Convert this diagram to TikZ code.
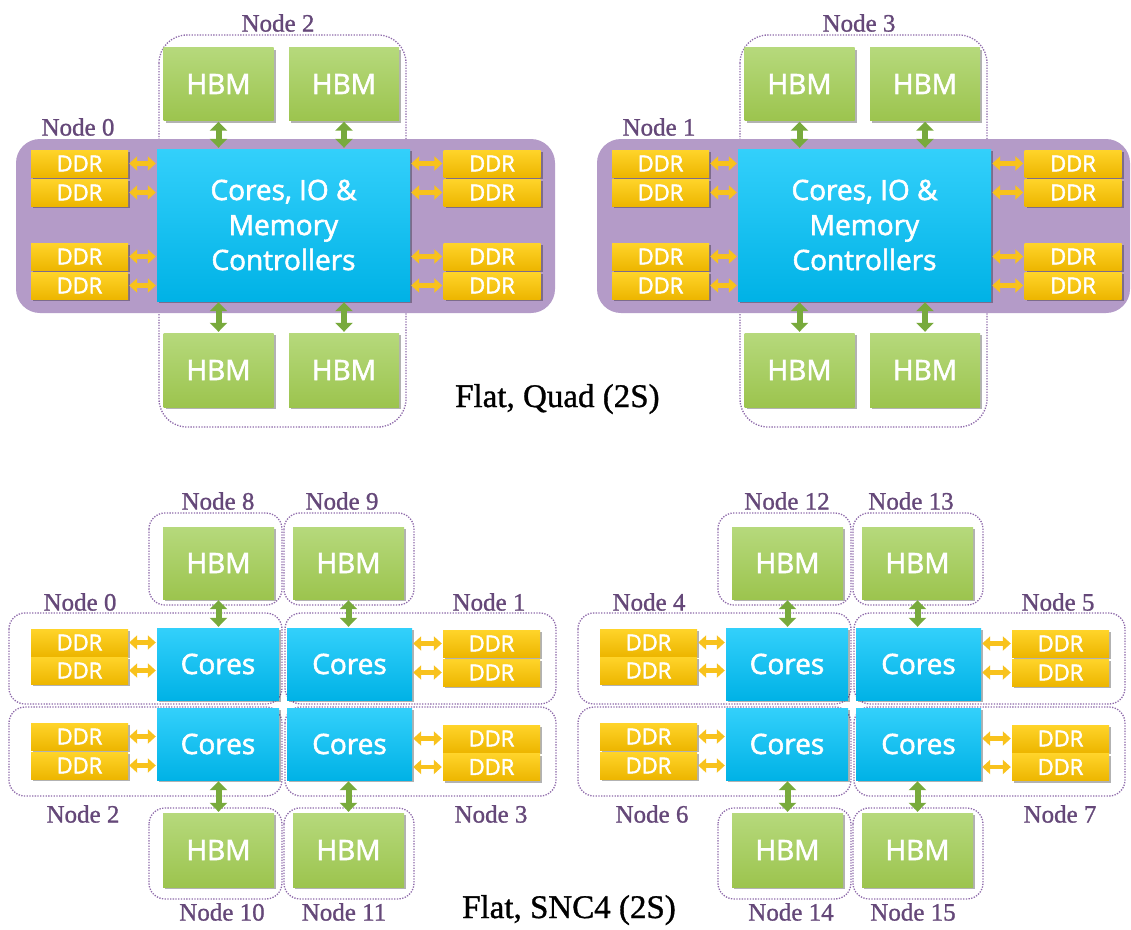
\documentclass[tikz,border=0pt]{standalone}
\usepackage{fontspec}
\usetikzlibrary{arrows.meta,shadows}
\newfontfamily\boxfont{Open Sans}[FakeBold=2]
\newfontfamily\lblfont{Liberation Serif}[FakeBold=1]
\definecolor{cyanT}{HTML}{33D0FB}
\definecolor{cyanB}{HTML}{00B2E6}
\definecolor{hbmT}{HTML}{B6D97C}
\definecolor{hbmB}{HTML}{9CC44E}
\definecolor{ddrT}{HTML}{FFD42A}
\definecolor{ddrB}{HTML}{EDB600}
\definecolor{bandc}{HTML}{B49BC8}
\definecolor{lblc}{HTML}{654879}
\definecolor{dotc}{HTML}{8E6AAA}
\definecolor{ddrarr}{HTML}{F8C21C}
\definecolor{grnarr}{HTML}{78AA3C}
\tikzset{
 box/.style={inner sep=0pt, text=white, drop shadow={shadow xshift=2pt,shadow yshift=-2pt,opacity=.3,fill=black}},
 hbm/.style={box, top color=hbmT, bottom color=hbmB, minimum width=110pt, minimum height=73pt, font=\boxfont\fontsize{28}{34}\selectfont},
 ddr/.style={box, top color=ddrT, bottom color=ddrB, minimum width=97pt, minimum height=27pt, font=\boxfont\fontsize{22}{26}\selectfont},
 cores/.style={box, top color=cyanT, bottom color=cyanB, font=\boxfont\fontsize{28}{35}\selectfont, align=center},
 lbl/.style={text=lblc, font=\lblfont\fontsize{25}{28}\selectfont, inner sep=0pt},
 dotbox/.style={draw=dotc, line width=1.3pt, dash pattern=on 1.3pt off 1.4pt, rounded corners=16pt},
 darr/.style={draw=ddrarr, line width=4.5pt, {Triangle[length=8pt,width=14pt]}-{Triangle[length=8pt,width=14pt]}, shorten <=1pt, shorten >=1pt},
 garr/.style={draw=grnarr, line width=6pt, {Triangle[length=9pt,width=17pt]}-{Triangle[length=9pt,width=17pt]}, shorten <=1pt, shorten >=1pt},
 captionlbl/.style={text=black, font=\lblfont\fontsize{33}{36}\selectfont, inner sep=0pt, anchor=base west},
}
% top block: #1 prefix, #2 left label, #3 top label, #4 band right edge
\newcommand\topblock[4]{%
 \draw[dotbox, rounded corners=28pt] (159,35) rectangle (406,427);
 \fill[bandc, rounded corners=24pt] (16,139) rectangle (#4,313);
 \node[hbm] (#1h1) at (218.5,84) {HBM};
 \node[hbm] (#1h2) at (344,84) {HBM};
 \node[hbm, minimum height=74pt] (#1h3) at (218.5,370) {HBM};
 \node[hbm, minimum height=74pt] (#1h4) at (344,370) {HBM};
 \node[cores, minimum width=253pt, minimum height=152pt] (#1c) at (283.5,225) {Cores, IO \&\\Memory\\Controllers};
 \foreach \i/\y in {1/163.5,2/192.5,3/256.5,4/285.5}{
  \node[ddr] (#1l\i) at (79.5,\y) {DDR};
  \node[ddr] (#1r\i) at (492,\y) {DDR};
  \draw[darr] (#1l\i.east) -- (#1l\i.east -| #1c.west);
  \draw[darr] (#1r\i.west) -- (#1r\i.west -| #1c.east);
 }
 \draw[garr] (#1h1.south) -- (#1h1.south |- #1c.north);
 \draw[garr] (#1h2.south) -- (#1h2.south |- #1c.north);
 \draw[garr] (#1h3.north) -- (#1h3.north |- #1c.south);
 \draw[garr] (#1h4.north) -- (#1h4.north |- #1c.south);
 \node[lbl] (#1la) at (78,127) {#2};
 \node[lbl] (#1lb) at (278,23) {#3};
}
% bottom block: #1 prefix, #2..#9 labels
\newcommand\bottomblock[9]{%
 \draw[dotbox] (149,513) rectangle (282,605);
 \draw[dotbox] (284,513) rectangle (414,605);
 \draw[dotbox] (149,808) rectangle (282,899);
 \draw[dotbox] (284,808) rectangle (414,899);
 \draw[dotbox] (9,613) rectangle (282,704);
 \draw[dotbox] (285,613) rectangle (556,704);
 \draw[dotbox] (9,707) rectangle (282,796);
 \draw[dotbox] (285,707) rectangle (556,796);
 \node[hbm, minimum width=111pt, minimum height=72pt] (#1h1) at (218.5,563) {HBM};
 \node[hbm, minimum width=111pt, minimum height=72pt] (#1h2) at (348.5,563) {HBM};
 \node[hbm, minimum width=111pt, minimum height=74pt] (#1h3) at (218.5,850) {HBM};
 \node[hbm, minimum width=111pt, minimum height=74pt] (#1h4) at (348.5,850) {HBM};
 \node[cores, minimum width=122pt, minimum height=72pt] (#1c1) at (218,664) {Cores};
 \node[cores, minimum width=125pt, minimum height=72pt] (#1c2) at (349.5,664) {Cores};
 \node[cores, minimum width=122pt, minimum height=72pt] (#1c3) at (218,744) {Cores};
 \node[cores, minimum width=125pt, minimum height=72pt] (#1c4) at (349.5,744) {Cores};
 \foreach \i/\y/\c in {1/642.5/1,2/670.5/1,3/736.5/3,4/765.5/3}{
  \node[ddr] (#1l\i) at (79.5,\y) {DDR};
  \draw[darr] (#1l\i.east) -- (#1l\i.east -| #1c\c.west);
 }
 \foreach \i/\y/\c in {1/643.5/2,2/672.5/2,3/738.5/4,4/767/4}{
  \node[ddr] (#1r\i) at (491.5,\y) {DDR};
  \draw[darr] (#1r\i.west) -- (#1r\i.west -| #1c\c.east);
 }
 \draw[garr] (#1h1.south) -- (#1h1.south |- #1c1.north);
 \draw[garr] (#1h2.south) -- (#1h2.south |- #1c2.north);
 \draw[garr] (#1h3.north) -- (#1h3.north |- #1c3.south);
 \draw[garr] (#1h4.north) -- (#1h4.north |- #1c4.south);
 \node[lbl] (#1la) at (218,501) {#2};
 \node[lbl] (#1lb) at (342,501) {#3};
 \node[lbl] (#1lc) at (80,602) {#4};
 \node[lbl] (#1ld) at (489,602) {#5};
 \node[lbl] (#1le) at (83,814) {#6};
 \node[lbl] (#1lf) at (491,814) {#7};
 \node[lbl] (#1lg) at (222,912) {#8};
 \node[lbl] (#1lh) at (344,912) {#9};
}
\begin{document}
\begin{tikzpicture}[x=1pt,y=-1pt]
\useasboundingbox (0,0) rectangle (1131,929);
\fill[white] (0,0) rectangle (1131,929);
\begin{scope}
 \topblock{TL}{Node 0}{Node 2}{555}
\end{scope}
\begin{scope}[xshift=581pt]
 \topblock{TR}{Node 1}{Node 3}{549}
\end{scope}
\node[captionlbl] (quad) at (455,407) {Flat, Quad (2S)};
\begin{scope}
 \bottomblock{BL}{Node 8}{Node 9}{Node 0}{Node 1}{Node 2}{Node 3}{Node 10}{Node 11}
\end{scope}
\begin{scope}[xshift=569pt]
 \bottomblock{BR}{Node 12}{Node 13}{Node 4}{Node 5}{Node 6}{Node 7}{Node 14}{Node 15}
\end{scope}
\node[captionlbl] (snc) at (462,918) {Flat, SNC4 (2S)};
\end{tikzpicture}
\end{document}
